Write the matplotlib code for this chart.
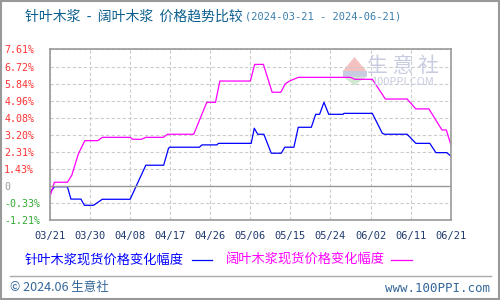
import matplotlib
matplotlib.use('Agg')
import matplotlib.pyplot as plt
from matplotlib.lines import Line2D
from matplotlib.patches import Rectangle, Polygon

plt.rcParams['font.family'] = ['Noto Sans CJK SC', 'DejaVu Sans']

# day offsets from 2024-03-21, value (% change)
soft_days = [0, 1, 4, 4.8, 7.1, 7.9, 10, 12, 18.4, 22, 26.1, 27.2, 27.5, 34.3, 34.9, 38.3, 38.7,
             46.2, 46.9, 47.7, 49.1, 50.8, 53.1, 53.9, 56, 57, 60, 61, 61.9, 62.9, 64, 67.3, 67.5,
             74, 76.3, 76.8, 82, 84, 87.2, 88.6, 91.1, 92]
soft_vals = [0.2, 0.51, 0.51, -0.13, -0.13, -0.45, -0.45, -0.14, -0.14, 1.62, 1.62, 2.49, 2.55, 2.55, 2.67, 2.67, 2.75,
             2.75, 3.53, 3.22, 3.22, 2.24, 2.24, 2.55, 2.55, 3.58, 3.58, 4.25, 4.25, 4.87, 4.25, 4.25, 4.30,
             4.30, 3.27, 3.22, 3.22, 2.75, 2.75, 2.27, 2.27, 2.10]

hard_days = [0, 1, 4, 5, 6.5, 8, 11, 12, 18.4, 19, 21, 22, 26, 27, 33, 36, 38, 39, 46, 47, 49, 51, 53,
             54, 55, 57, 69, 70, 74, 77, 82, 84, 87, 90, 91, 92]
hard_vals = [0.0, 0.74, 0.74, 1.1, 2.2, 2.89, 2.89, 3.06, 3.06, 2.96, 2.96, 3.06, 3.06, 3.22, 3.22, 4.87, 4.87, 5.97,
             5.97, 6.83, 6.83, 5.39, 5.39, 5.82, 5.97, 6.16, 6.16, 6.06, 6.06, 5.04, 5.04, 4.53, 4.53, 3.44, 3.44, 2.70]

xtick_labels = ['03/21', '03/30', '04/08', '04/17', '04/26', '05/06', '05/15', '05/24', '06/02', '06/11', '06/21']
ytick_vals = [-1.21, -0.33, 0.55, 1.43, 2.31, 3.20, 4.08, 4.96, 5.84, 6.72, 7.61]
ytick_labels = ['-1.21%', '-0.33%', '0', '1.43%', '2.31%', '3.20%', '4.08%', '4.96%', '5.84%', '6.72%', '7.61%']

fig = plt.figure(figsize=(5, 3), dpi=100)
ax = fig.add_axes([0.1, 0.2667, 0.8014, 0.569])

# watermark logo
ax.add_patch(Polygon([(0.73, 0.87), (0.79, 0.87), (0.76, 0.955)], closed=True, transform=ax.transAxes,
                     facecolor='#f4c0c0', edgecolor='none'))
ax.add_patch(Rectangle((0.73, 0.84), 0.06, 0.03, transform=ax.transAxes, facecolor='#c8cce0', edgecolor='none'))
ax.add_patch(Polygon([(0.73, 0.84), (0.79, 0.84), (0.76, 0.79)], closed=True, transform=ax.transAxes,
                     facecolor='#cfe8cf', edgecolor='none'))
ax.text(0.88, 0.90, '生 意 社', transform=ax.transAxes, fontsize=15, color='#c8cce0', ha='center', va='center')
ax.text(0.88, 0.81, '100PPI.COM', transform=ax.transAxes, fontsize=8, color='#c8cce0', ha='center', va='center')

ax.plot(soft_days, soft_vals, color='#0000ff', lw=0.9)
ax.plot(hard_days, hard_vals, color='#ff00ff', lw=0.9)

ax.set_xlim(0, 92)
ax.set_ylim(-1.21, 7.61)
xt = [i * 9.2 for i in range(len(xtick_labels))]
ax.set_xticks(xt)
ax.set_xticklabels(xtick_labels)
ax.set_yticks(ytick_vals)
ax.set_yticklabels(ytick_labels, ha='left')
ax.tick_params(length=0, labelsize=7.5)
ax.tick_params(axis='x', pad=8, colors='#1f3a6e')
ax.tick_params(axis='y', pad=33, labelsize=7.2)
for lab in ax.get_xticklabels() + ax.get_yticklabels():
    lab.set_family('DejaVu Sans Mono')
for lab, v in zip(ax.get_yticklabels(), ytick_labels):
    if v == '0':
        lab.set_color('#999999')
    elif v.startswith('-'):
        lab.set_color('#33aa33')
    else:
        lab.set_color('#ff3333')

ax.grid(True, ls=(0, (3, 2)), color='#cccccc', lw=0.8)
ax.axhline(0.55, color='#999999', lw=1)
for s in ax.spines.values():
    s.set_color('#999999')
    s.set_linewidth(1.2)

fig.text(0.05, 0.945, '针叶木浆  -  阔叶木浆  价格趋势比较', fontsize=10, color='#0b5f8f', va='center')
fig.text(0.49, 0.945, '(2024-03-21 - 2024-06-21)', fontsize=7.5, color='#3a7fae', va='center',
         family='DejaVu Sans Mono')

# legend
fig.text(0.05, 0.133, '针叶木浆现货价格变化幅度', fontsize=9.5, color='#0000ff', va='center')
fig.add_artist(Line2D([0.384, 0.424], [0.133, 0.133], color='#0000ff', lw=0.9))
fig.text(0.452, 0.133, '阔叶木浆现货价格变化幅度', fontsize=9.5, color='#ff00ff', va='center')
fig.add_artist(Line2D([0.782, 0.824], [0.133, 0.133], color='#ff00ff', lw=0.9))

# footer
fig.add_artist(Line2D([0.02, 0.982], [0.08, 0.08], color='#aaaaaa', lw=1))
fig.text(0.02, 0.04, '© 2024.06 生意社', fontsize=9, color='#336699', va='center')
fig.text(0.98, 0.04, 'www.100PPI.com', fontsize=9, color='#336699', va='center', ha='right',
         family='DejaVu Sans Mono')
fig.add_artist(Rectangle((0.002, 0.003), 0.996, 0.994, transform=fig.transFigure, fill=False,
                         edgecolor='#999999', lw=1.5))

fig.savefig('out.png', dpi=100)
